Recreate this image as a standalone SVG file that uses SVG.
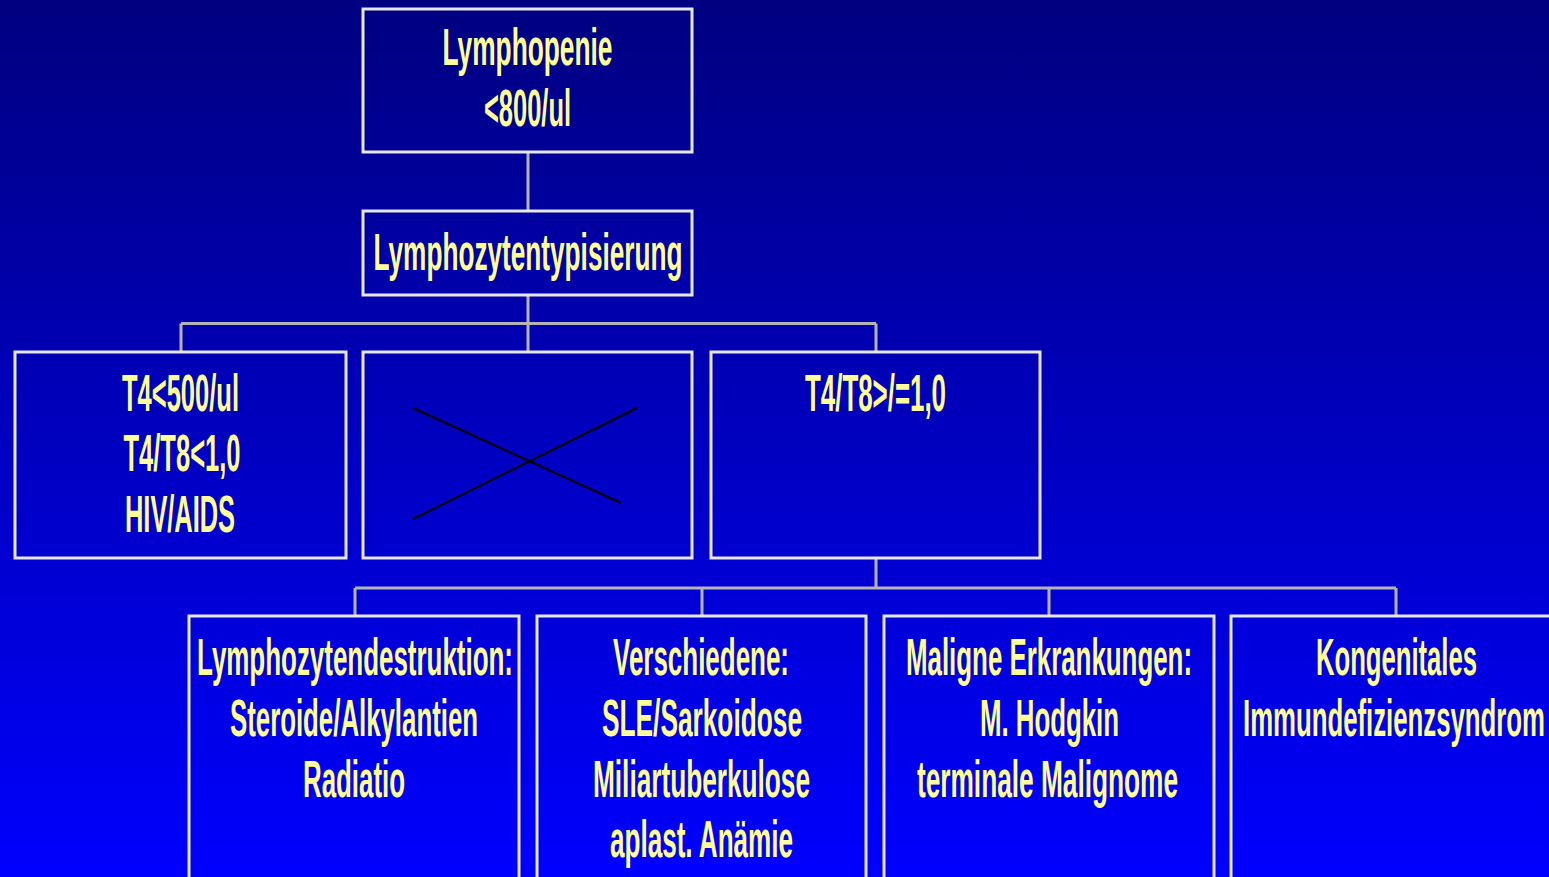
<svg xmlns="http://www.w3.org/2000/svg" width="1549" height="877" viewBox="0 0 1549 877">
<defs>
<linearGradient id="bg" x1="0" y1="0" x2="0" y2="1">
<stop offset="0" stop-color="#000080"/>
<stop offset="1" stop-color="#0000FF"/>
</linearGradient>
<style>
.box{fill:none;stroke:#E6E6E6;stroke-width:3}
.con{fill:none;stroke:#B4B4B4;stroke-width:3}
.t{font-family:"Liberation Sans",Arial,sans-serif;font-weight:bold;font-size:52px;fill:#FFFF99;text-anchor:middle}
.x{stroke:#000;stroke-width:2}
</style>
</defs>
<rect x="0" y="0" width="1549" height="877" fill="url(#bg)"/>
<g id="connectors">
<path class="con" d="M528 152V210M528 296V352M181 323.5H876M181 323.5V352M876 323.5V352M876 559V588M355 588H1396M355 588V616M702 588V616M1049 588V616M1396 588V616"/>
</g>
<g id="n1">
<rect class="box" x="363" y="9" width="329" height="143"/>
<text class="t" x="527.5" y="65" textLength="170" lengthAdjust="spacingAndGlyphs">Lymphopenie</text>
<text class="t" x="527.5" y="126" textLength="87" lengthAdjust="spacingAndGlyphs">&lt;800/ul</text>
</g>
<g id="n2">
<rect class="box" x="363" y="211" width="329" height="84"/>
<text class="t" x="528" y="270" textLength="309" lengthAdjust="spacingAndGlyphs">Lymphozytentypisierung</text>
</g>
<g id="n3">
<rect class="box" x="15" y="352" width="331" height="206"/>
<text class="t" x="180.5" y="411" textLength="117" lengthAdjust="spacingAndGlyphs">T4&lt;500/ul</text>
<text class="t" x="182" y="471" textLength="117" lengthAdjust="spacingAndGlyphs">T4/T8&lt;1,0</text>
<text class="t" x="180" y="532" textLength="110" lengthAdjust="spacingAndGlyphs">HIV/AIDS</text>
</g>
<g id="n4">
<rect class="box" x="363" y="352" width="329" height="206"/>
<line class="x" x1="413" y1="408" x2="621" y2="503"/>
<line class="x" x1="413" y1="519" x2="637" y2="408"/>
</g>
<g id="n5">
<rect class="box" x="711" y="352" width="329" height="206"/>
<text class="t" x="875.5" y="411" textLength="141" lengthAdjust="spacingAndGlyphs">T4/T8&gt;/=1,0</text>
</g>
<g id="n6">
<rect class="box" x="189" y="616" width="330" height="280"/>
<text class="t" x="355" y="675" textLength="316" lengthAdjust="spacingAndGlyphs">Lymphozytendestruktion:</text>
<text class="t" x="354" y="736" textLength="248" lengthAdjust="spacingAndGlyphs">Steroide/Alkylantien</text>
<text class="t" x="354" y="797" textLength="102" lengthAdjust="spacingAndGlyphs">Radiatio</text>
</g>
<g id="n7">
<rect class="box" x="537" y="616" width="329" height="280"/>
<text class="t" x="701" y="675" textLength="176" lengthAdjust="spacingAndGlyphs">Verschiedene:</text>
<text class="t" x="702" y="736" textLength="200" lengthAdjust="spacingAndGlyphs">SLE/Sarkoidose</text>
<text class="t" x="701.5" y="797" textLength="217" lengthAdjust="spacingAndGlyphs">Miliartuberkulose</text>
<text class="t" x="701.5" y="857" textLength="183" lengthAdjust="spacingAndGlyphs">aplast. Anämie</text>
</g>
<g id="n8">
<rect class="box" x="884" y="616" width="330" height="280"/>
<text class="t" x="1049" y="675" textLength="286" lengthAdjust="spacingAndGlyphs">Maligne Erkrankungen:</text>
<text class="t" x="1049.5" y="736" textLength="139" lengthAdjust="spacingAndGlyphs">M. Hodgkin</text>
<text class="t" x="1047.5" y="797" textLength="261" lengthAdjust="spacingAndGlyphs">terminale Malignome</text>
</g>
<g id="n9">
<rect class="box" x="1231" y="616" width="340" height="280"/>
<text class="t" x="1396.5" y="675" textLength="161" lengthAdjust="spacingAndGlyphs">Kongenitales</text>
<text class="t" x="1394" y="736" textLength="302" lengthAdjust="spacingAndGlyphs">Immundefizienzsyndrom</text>
</g>
</svg>
